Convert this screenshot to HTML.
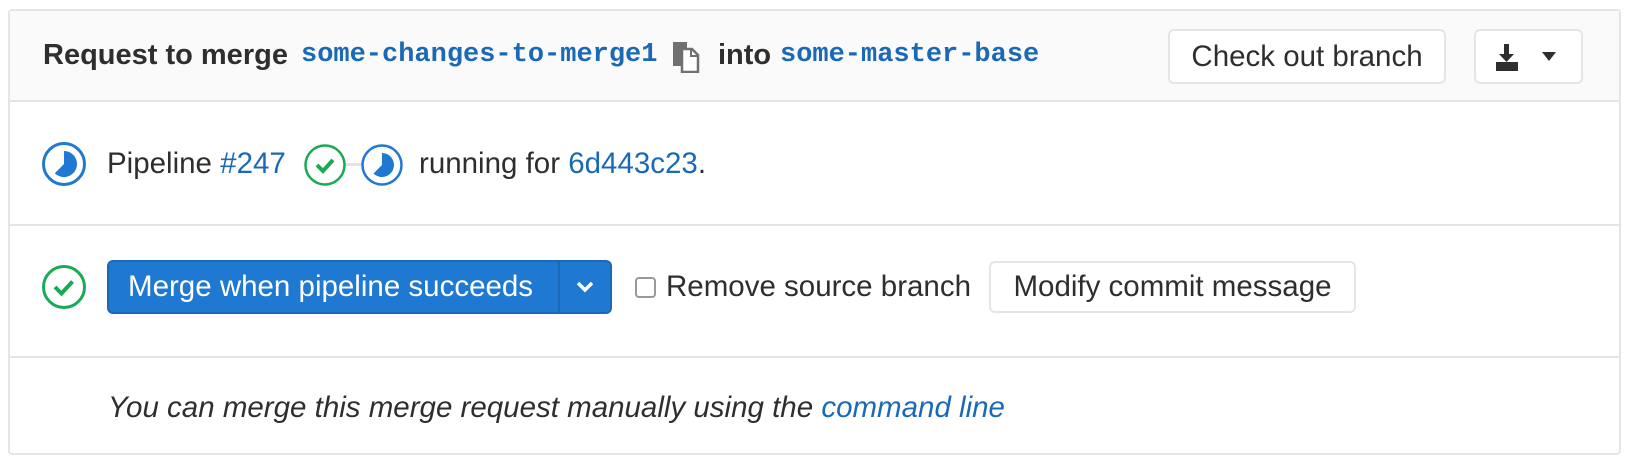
<!DOCTYPE html>
<html><head><meta charset="utf-8"><style>
body{margin:0;width:1632px;height:468px;background:#fff;font-family:"Liberation Sans",sans-serif;color:#2e2e2e;position:relative;overflow:hidden}
.a{position:absolute;white-space:nowrap}
.box{position:absolute;left:8px;top:9px;width:1613px;height:446px;border:2px solid #e5e5e5;border-radius:4px;box-sizing:border-box}
.hdr{position:absolute;left:10px;top:11px;width:1609px;height:89px;background:#fafafa;border-bottom:2px solid #e5e5e5}
.hl{position:absolute;left:10px;width:1609px;height:2px;background:#e5e5e5}
.t{font-size:29.5px;line-height:32px}
.mono{font-family:"Liberation Mono",monospace;font-weight:bold;color:#1b69b6;font-size:27px}
.lk{color:#1b69b6}
.btn{position:absolute;box-sizing:border-box;border:2px solid #e5e5e5;border-radius:6px;background:#fff;font-size:29.5px;display:flex;align-items:center;justify-content:center}
</style></head><body>
<div class="box"></div>
<div class="hdr"></div>
<div class="hl" style="top:224px"></div>
<div class="hl" style="top:356px"></div>

<div class="a t" style="left:43px;top:39px;font-weight:bold;font-size:29px">Request to merge</div>
<div class="a mono" style="left:301px;top:39px;line-height:32px">some-changes-to-merge1</div>
<svg class="a" style="left:672px;top:41px" width="28" height="32" viewBox="0 0 28 32"><rect x="1" y="1" width="14" height="24" fill="#707070"/><path d="M10 8h10l6 6v17H10z" fill="#fff" stroke="#707070" stroke-width="2.5"/><path d="M19 8v7h7" fill="none" stroke="#707070" stroke-width="2"/></svg>
<div class="a t" style="left:718px;top:39px;font-weight:bold;font-size:29px">into</div>
<div class="a mono" style="left:780px;top:39px;line-height:32px">some-master-base</div>
<div class="btn" style="left:1168px;top:29px;width:278px;height:55px">Check out branch</div>
<div class="btn" style="left:1474px;top:29px;width:109px;height:55px">
<svg width="70" height="30" viewBox="0 0 70 30"><path d="M10 2h5v10h5l-7.5 8-7.5-8h5z" fill="#2e2e2e"/><rect x="2" y="20" width="22" height="9" fill="#2e2e2e"/><path d="M48 10h14l-7 9z" fill="#2e2e2e"/></svg></div>

<svg class="a" style="left:41px;top:141px" width="46" height="46" viewBox="0 0 46 46"><circle cx="23" cy="23" r="20.5" fill="#fff" stroke="#1f78d1" stroke-width="3"/><path d="M23 10a13 13 0 1 1-9.2 22.2L23 23z" fill="#1f78d1"/></svg>
<div class="a t" style="left:107px;top:148px">Pipeline <span class="lk">#247</span></div>
<div class="a" style="left:340px;top:163px;width:30px;height:3px;background:#e5e5e5"></div>
<svg class="a" style="left:303px;top:143px" width="44" height="44" viewBox="0 0 44 44"><circle cx="22" cy="22" r="19.5" fill="#fff" stroke="#1aaa55" stroke-width="2.5"/><path d="M14 22l6 6 10-11" fill="none" stroke="#1aaa55" stroke-width="4"/></svg>
<svg class="a" style="left:360px;top:143px" width="44" height="44" viewBox="0 0 44 44"><circle cx="22" cy="22" r="19.5" fill="#fff" stroke="#1f78d1" stroke-width="2.5"/><path d="M22 10a12 12 0 1 1-8.5 20.5L22 22z" fill="#1f78d1"/></svg>
<div class="a t" style="left:419px;top:148px">running for <span class="lk">6d443c23</span>.</div>

<svg class="a" style="left:41px;top:264px" width="46" height="46" viewBox="0 0 46 46"><circle cx="23" cy="23" r="20.5" fill="#fff" stroke="#1aaa55" stroke-width="3"/><path d="M14 23l6.5 6.5 11-12" fill="none" stroke="#1aaa55" stroke-width="4"/></svg>
<div class="a" style="left:107px;top:260px;width:505px;height:54px;background:#1f78d1;border:2px solid #1b69b6;border-radius:6px;box-sizing:border-box"></div>
<div class="a" style="left:558px;top:262px;width:2px;height:50px;background:#1b69b6"></div>
<div class="a t" style="left:128px;top:271px;color:#fff">Merge when pipeline succeeds</div>
<svg class="a" style="left:576px;top:280px" width="18" height="14" viewBox="0 0 18 14"><path d="M2 3l7 7 7-7" fill="none" stroke="#fff" stroke-width="3.5"/></svg>
<div class="a" style="left:635px;top:277px;width:21px;height:21px;border:2px solid #999;border-radius:4px;box-sizing:border-box;background:#fff"></div>
<div class="a t" style="left:666px;top:271px">Remove source branch</div>
<div class="btn" style="left:989px;top:261px;width:367px;height:52px">Modify commit message</div>

<div class="a t" style="left:108px;top:392px;font-style:italic">You can merge this merge request manually using the <span class="lk">command line</span></div>
</body></html>
